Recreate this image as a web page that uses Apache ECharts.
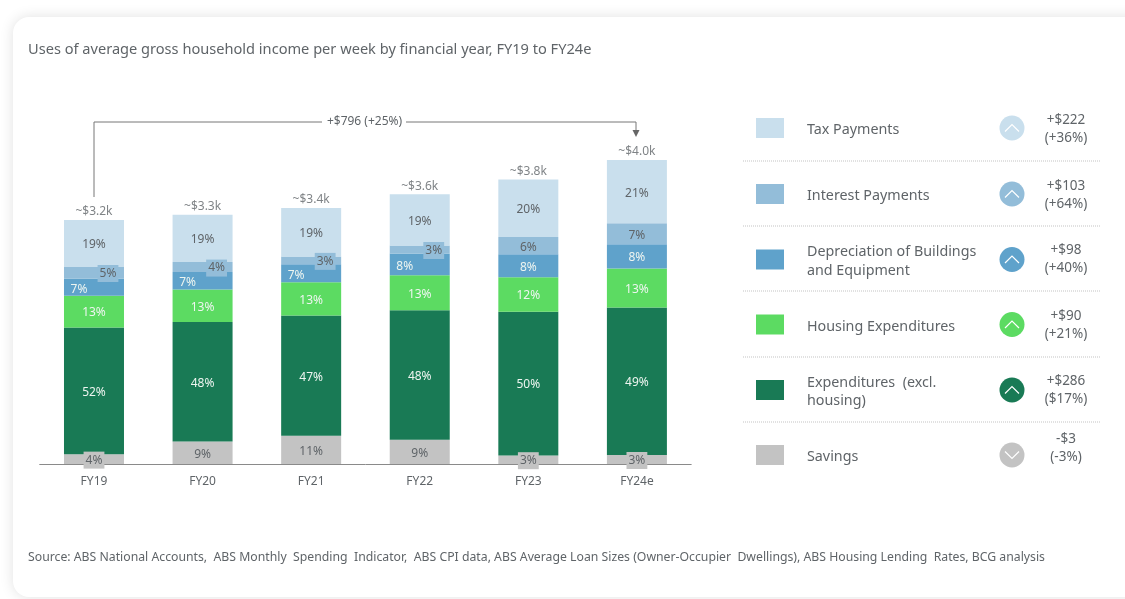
<!DOCTYPE html>
<html>
<head>
<meta charset="utf-8">
<style>html,body{margin:0;padding:0;background:#fff}#chart{width:1125px;height:599px}</style>
<script src="https://cdn.jsdelivr.net/npm/echarts@6/dist/echarts.min.js"></script>
</head>
<body>
<div id="chart"></div>
<script>
const years = ['FY19', 'FY20', 'FY21', 'FY22', 'FY23', 'FY24e'];
// Average gross household income per week, in $k
const totalsK = [3.21, 3.28, 3.37, 3.55, 3.78, 3.96];
const totalLabels = ['~$3.2k', '~$3.3k', '~$3.4k', '~$3.6k', '~$3.8k', '~$4.0k'];
// Share of income, percent
const savings = [4, 9, 11, 9, 3, 3];
const expenditures = [52, 48, 47, 48, 50, 49];
const housing = [13, 13, 13, 13, 12, 13];
const depreciation = [7, 7, 7, 8, 8, 8];
const interest = [5, 4, 3, 3, 6, 7];
const tax = [19, 19, 19, 19, 20, 21];
// Legend rows, top to bottom
const legendNames = [['Tax Payments'], ['Interest Payments'], ['Depreciation of Buildings', 'and Equipment'], ['Housing Expenditures'], ['Expenditures  (excl.', 'housing)'], ['Savings']];
const changeDollars = ['+$222', '+$103', '+$98', '+$90', '+$286', '-$3'];
const changePercents = ['(+36%)', '(+64%)', '(+40%)', '(+21%)', '($17%)', '(-3%)'];
const changeNote = '+$796 (+25%)';
const titleText = 'Uses of average gross household income per week by financial year, FY19 to FY24e';
const sourceText = 'Source: ABS National Accounts,  ABS Monthly  Spending  Indicator,  ABS CPI data, ABS Average Loan Sizes (Owner-Occupier  Dwellings), ABS Housing Lending  Rates, BCG analysis';

const FONT = '"Noto Sans", sans-serif';
const DARK = '#5f6468';
const LIGHT = '#eef5f0';
const colors = {
  tax: '#c9dfed', interest: '#93bdd9', depreciation: '#5fa2cb',
  housing: '#5cdb62', expenditures: '#197a55', savings: '#c3c3c3'
};
const legendColors = [colors.tax, colors.interest, colors.depreciation, colors.housing, colors.expenditures, colors.savings];
const chevronDown = [false, false, false, false, false, true];

// Thin segments carry a boxed label in the segment colour
function boxed(color, dx) {
  return { offset: [dx, 1], backgroundColor: color, color: DARK, padding: [3, 2, 2, 2] };
}
const labelOverrides = {
  savings: { 0: boxed(colors.savings, 0), 4: boxed(colors.savings, 0), 5: boxed(colors.savings, 0) },
  interest: { 0: boxed(colors.interest, 14), 1: boxed(colors.interest, 14), 2: boxed(colors.interest, 14), 3: boxed(colors.interest, 14) },
  depreciation: { 0: { offset: [-15, 2] }, 1: { offset: [-15, 2] }, 2: { offset: [-15, 2] }, 3: { offset: [-15, 2] } }
};

function segment(name, key, shares, labelColor) {
  const overrides = labelOverrides[key] || {};
  return {
    name, type: 'bar', stack: 'income', barWidth: 60,
    itemStyle: { color: colors[key] },
    emphasis: { disabled: true },
    label: {
      show: true, position: 'inside', color: labelColor, fontFamily: FONT, fontSize: 12,
      offset: [0, 1.5],
      formatter: p => shares[p.dataIndex] + '%'
    },
    data: shares.map((s, i) => {
      const item = { value: s / 100 * totalsK[i] };
      if (overrides[i]) item.label = overrides[i];
      return item;
    })
  };
}

const stackTops = years.map((_, i) =>
  [savings, expenditures, housing, depreciation, interest, tax].reduce((sum, arr) => sum + arr[i] / 100 * totalsK[i], 0));

// Panel furniture and legend
const graphics = [
  { type: 'rect', z: -10, shape: { x: 13, y: 17, width: 1160, height: 580, r: 16 },
    style: { fill: '#fff', shadowBlur: 14, shadowColor: 'rgba(0,0,0,0.12)' } },
  { type: 'text', style: { x: 28, y: 50, text: titleText, font: '14.6px ' + FONT, fill: DARK, textVerticalAlign: 'middle' } },
  { type: 'text', style: { x: 28, y: 558, text: sourceText, font: '12.25px ' + FONT, fill: DARK, textVerticalAlign: 'middle' } },
  { type: 'polyline', shape: { points: [[94, 197], [94, 122], [322, 122]] }, style: { stroke: '#777', lineWidth: 1, fill: null } },
  { type: 'polyline', shape: { points: [[406, 122], [636, 122], [636, 131]] }, style: { stroke: '#777', lineWidth: 1, fill: null } },
  { type: 'polygon', shape: { points: [[632.5, 130], [639.5, 130], [636, 137]] }, style: { fill: '#666' } },
  { type: 'text', style: { x: 364.5, y: 122, text: changeNote, font: '12px ' + FONT, fill: DARK, textAlign: 'center', textVerticalAlign: 'middle' } }
];
const rowCentres = [128, 194, 259.5, 324.5, 390, 455];
const changeCentres = [129.5, 195, 259.5, 325, 390.5, 448.5];
const dividers = [161, 226, 291, 357, 422];
dividers.forEach(y => graphics.push({
  type: 'line', shape: { x1: 743, y1: y, x2: 1100, y2: y },
  style: { stroke: '#c4c4c4', lineWidth: 1, lineDash: [1, 1] }
}));
legendNames.forEach((lines, i) => {
  const cy = rowCentres[i];
  const c = legendColors[i];
  graphics.push({ type: 'rect', shape: { x: 756, y: cy - 10, width: 28, height: 20 }, style: { fill: c } });
  const step = 18.3;
  lines.forEach((line, j) => graphics.push({
    type: 'text',
    style: { x: 807, y: cy + 2 + (j - (lines.length - 1) / 2) * step, text: line, font: '14.3px ' + FONT, fill: DARK, textVerticalAlign: 'middle' }
  }));
  graphics.push({ type: 'circle', shape: { cx: 1012, cy, r: 12.5 }, style: { fill: c } });
  const d = chevronDown[i] ? -3.5 : 3.5;
  graphics.push({
    type: 'polyline',
    shape: { points: [[1005, cy + d], [1012, cy - d], [1019, cy + d]] },
    style: { stroke: '#fff', lineWidth: 1.2, fill: null }
  });
  graphics.push({ type: 'text', style: { x: 1066, y: changeCentres[i] - 9, text: changeDollars[i], font: '13.5px ' + FONT, fill: DARK, textAlign: 'center', textVerticalAlign: 'middle' } });
  graphics.push({ type: 'text', style: { x: 1066, y: changeCentres[i] + 9, text: changePercents[i], font: '13.5px ' + FONT, fill: DARK, textAlign: 'center', textVerticalAlign: 'middle' } });
});

const chart = echarts.init(document.getElementById('chart'), null, { renderer: 'canvas' });
chart.setOption({
  animation: false,
  backgroundColor: '#fff',
  grid: { left: 39.7, top: 84, width: 651.5, height: 380, containLabel: false },
  xAxis: {
    type: 'category', data: years,
    axisLine: { lineStyle: { color: '#8a8a8a', width: 1 } },
    axisTick: { show: false },
    axisLabel: { color: DARK, fontFamily: FONT, fontSize: 12, margin: 12 }
  },
  yAxis: { type: 'value', min: 0, max: 5, show: false, splitLine: { show: false } },
  graphic: graphics,
  series: [
    segment('Savings', 'savings', savings, DARK),
    segment('Expenditures (excl. housing)', 'expenditures', expenditures, LIGHT),
    segment('Housing Expenditures', 'housing', housing, LIGHT),
    segment('Depreciation of Buildings and Equipment', 'depreciation', depreciation, LIGHT),
    segment('Interest Payments', 'interest', interest, DARK),
    segment('Tax Payments', 'tax', tax, DARK),
    {
      name: 'Total', type: 'scatter', symbolSize: 0, silent: true,
      data: stackTops,
      label: {
        show: true, position: 'top', distance: 2, color: DARK, fontFamily: FONT, fontSize: 12,
        formatter: p => totalLabels[p.dataIndex]
      }
    }
  ]
});
</script>
</body>
</html>
